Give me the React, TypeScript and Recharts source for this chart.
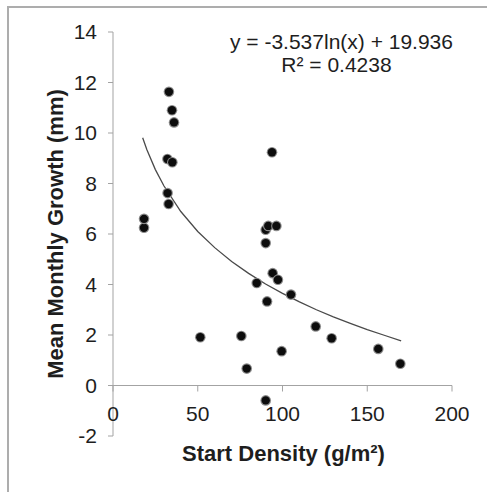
import React from "react";
import {
  ScatterChart,
  Scatter,
  XAxis,
  YAxis,
  ReferenceLine,
  Customized,
} from "recharts";

// start density (g/m2) and mean monthly growth (mm), one entry per dot
const density = [
  18.3, 18.3, 33.0, 34.8, 36.0, 32.1, 35.0, 32.2, 32.8, 51.5, 75.7, 78.9, 84.8, 90.1,
  90.1, 91.6, 96.4, 93.8, 94.2, 97.3, 90.9, 105.0, 99.5, 90.1, 119.6, 129.0, 156.5, 169.5,
];
const growth = [
  6.25, 6.6, 11.63, 10.9, 10.42, 8.97, 8.84, 7.62, 7.19, 1.91, 1.96, 0.67, 4.06, 5.64,
  6.17, 6.32, 6.32, 9.24, 4.45, 4.19, 3.33, 3.6, 1.36, -0.59, 2.34, 1.87, 1.45, 0.86,
];

// log trendline as drawn on the plot
const trendX = [17.5, 20, 25, 30, 40, 50, 60, 70, 80, 90, 100, 110, 120, 130, 140, 150, 160, 170];
const trendY = [9.81, 9.34, 8.55, 7.91, 6.89, 6.1, 5.46, 4.91, 4.44, 4.02, 3.65, 3.31, 3.0, 2.72, 2.46, 2.21, 1.99, 1.77];

const xTicks = [0, 50, 100, 150, 200];
const yTicks = [-2, 0, 2, 4, 6, 8, 10, 12, 14];

const equationLine = "y = -3.537ln(x) + 19.936";
const rSquaredLine = "R² = 0.4238";
const xTitle = "Start Density (g/m²)";
const yTitle = "Mean Monthly Growth (mm)";

const points = density.map((x, i) => ({ x, y: growth[i] }));
const trend = trendX.map((x, i) => ({ x, y: trendY[i] }));

const FONT = "'Liberation Sans', Arial, sans-serif";
const AXIS = "#a3a3a3";
const INK = "#1e1e1e";

const W = 479;
const H = 484;
const TOP = 24;
const LEFT = 105;
const RIGHT = 35;
const XAXIS_H = 56;
const PLOT_H = H - TOP - XAXIS_H;
const Y0 = TOP + (PLOT_H * 14) / 16; // pixel row of y = 0

const XTick = (props: any) => {
  const { x, payload } = props;
  return (
    <g>
      <line x1={x} x2={x} y1={Y0} y2={Y0 + 6} stroke={AXIS} />
      <text x={x} y={Y0 + 35} textAnchor="middle" fill={INK} fontSize={21} fontFamily={FONT}>
        {payload.value}
      </text>
    </g>
  );
};

const Dot = (props: any) => {
  const { cx, cy } = props;
  return (
    <g>
      <circle cx={cx} cy={cy} r={5.3} fill="#8a8a8a" />
      <circle cx={cx} cy={cy} r={4.2} fill="#0d0d0d" />
    </g>
  );
};

const Titles = () => {
  const cx = (LEFT + (W - RIGHT)) / 2;
  const cy = TOP + PLOT_H / 2;
  return (
    <g fontFamily={FONT} fill={INK}>
      <text x={333.5} y={41} textAnchor="middle" fontSize={21}>
        {equationLine}
      </text>
      <text x={328.5} y={64} textAnchor="middle" fontSize={21}>
        {rSquaredLine}
      </text>
      <text x={cx + 1} y={453} textAnchor="middle" fontSize={22} fontWeight="bold">
        {xTitle}
      </text>
      <text
        x={47}
        y={cy}
        textAnchor="middle"
        dominantBaseline="central"
        fontSize={22}
        fontWeight="bold"
        transform={`rotate(-90, 47, ${cy})`}
      >
        {yTitle}
      </text>
    </g>
  );
};

export default function App() {
  return (
    <div
      style={{
        position: "absolute",
        top: 6,
        left: 7,
        width: 492,
        height: 500,
        border: "2px solid #adadad",
        boxSizing: "border-box",
        background: "#fff",
      }}
    >
      <div style={{ marginLeft: -1 }}>
        <ScatterChart width={W} height={H} margin={{ top: TOP, right: RIGHT, bottom: 0, left: 0 }}>
          <XAxis
            type="number"
            dataKey="x"
            domain={[0, 200]}
            ticks={xTicks}
            interval={0}
            height={XAXIS_H}
            axisLine={false}
            tickLine={false}
            tick={<XTick />}
          />
          <YAxis
            type="number"
            dataKey="y"
            domain={[-2, 14]}
            ticks={yTicks}
            interval={0}
            width={LEFT}
            axisLine={{ stroke: AXIS }}
            tickLine={{ stroke: AXIS }}
            tickSize={5}
            tickMargin={11}
            tick={{ fill: INK, fontSize: 21, fontFamily: FONT }}
          />
          <ReferenceLine y={0} stroke={AXIS} />
          <Scatter
            data={trend}
            line={{ stroke: "#4a4a4a", strokeWidth: 1.3 }}
            lineType="joint"
            shape={() => <g />}
            isAnimationActive={false}
          />
          <Scatter data={points} shape={<Dot />} isAnimationActive={false} />
          <Customized component={Titles} />
        </ScatterChart>
      </div>
    </div>
  );
}
